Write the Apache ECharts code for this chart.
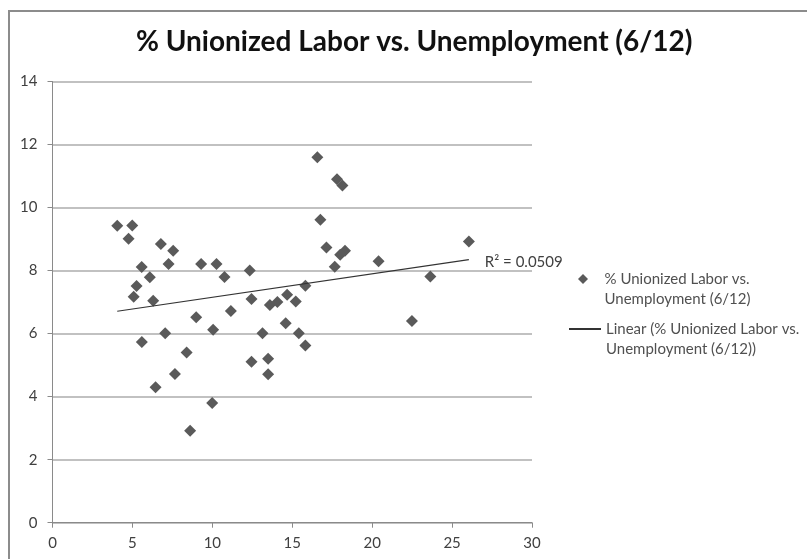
<!DOCTYPE html>
<html>
<head>
<meta charset="utf-8">
<script src="https://cdn.jsdelivr.net/npm/echarts@6/dist/echarts.min.js"></script>
<style>
html,body{margin:0;padding:0;background:#fff;}
#chart{width:807px;height:559px;}
</style>
</head>
<body>
<div id="chart"></div>
<script>
// Unionized labor (%) on x, unemployment (%) on y, one point per state
const unionPct = [
  4.05, 4.99, 4.76, 6.78, 7.55, 5.58, 7.26, 9.30, 10.26, 6.09, 10.76, 5.26, 5.08, 6.30, 11.16, 8.99, 10.05, 7.05, 5.59, 8.39, 7.66, 6.45, 9.99, 8.61,
  16.57, 17.8, 18.14, 16.76, 17.14, 18.3, 18.0, 17.66, 20.4, 12.34, 15.82, 12.45, 14.68, 15.22, 13.6, 14.07, 14.59, 13.14, 15.41, 15.82, 12.45, 13.49, 13.49,
  26.05, 23.64, 22.49
];
const unemploymentPct = [
  9.42, 9.43, 9.01, 8.84, 8.63, 8.11, 8.21, 8.21, 8.21, 7.79, 7.80, 7.51, 7.17, 7.04, 6.72, 6.52, 6.12, 6.01, 5.73, 5.40, 4.72, 4.30, 3.80, 2.92,
  11.60, 10.90, 10.70, 9.61, 8.73, 8.63, 8.50, 8.12, 8.30, 8.0, 7.52, 7.10, 7.23, 7.02, 6.91, 7.0, 6.33, 6.01, 6.01, 5.62, 5.11, 5.20, 4.71,
  8.92, 7.81, 6.40
];
const xTicks = [0, 5, 10, 15, 20, 25, 30];
const yTicks = [0, 2, 4, 6, 8, 10, 12, 14];
const titleText = '% Unionized Labor vs. Unemployment (6/12)';
const seriesName = '% Unionized Labor vs. Unemployment (6/12)';
const trendName = 'Linear (% Unionized Labor vs. Unemployment (6/12))';
const legendLines = {};
legendLines[seriesName] = ['% Unionized Labor vs.', 'Unemployment (6/12)'];
legendLines[trendName] = ['Linear (% Unionized Labor vs.', 'Unemployment (6/12))'];
const r2Text = 'R² = 0.0509';

// least-squares linear trend from the data
const n = unionPct.length;
let sx = 0, sy = 0, sxx = 0, sxy = 0;
for (let i = 0; i < n; i++) {
  sx += unionPct[i]; sy += unemploymentPct[i];
  sxx += unionPct[i] * unionPct[i]; sxy += unionPct[i] * unemploymentPct[i];
}
const slope = (n * sxy - sx * sy) / (n * sxx - sx * sx);
const intercept = (sy - slope * sx) / n;
const xMin = Math.min.apply(null, unionPct), xMax = Math.max.apply(null, unionPct);
const trendData = [[xMin, intercept + slope * xMin], [xMax, intercept + slope * xMax]];

const points = unionPct.map((x, i) => [x, unemploymentPct[i]]);
const FONT = 'Lato, "Open Sans", sans-serif';
const legendText = {fontFamily: FONT, fontSize: 15, color: '#505050', lineHeight: 20};

const chart = echarts.init(document.getElementById('chart'), null, {renderer: 'canvas'});
chart.setOption({
  animation: false,
  backgroundColor: '#fff',
  title: {
    text: titleText,
    left: 136,
    top: 28,
    padding: 0,
    textStyle: {fontFamily: FONT, fontSize: 28, fontWeight: 'bold', color: '#111'}
  },
  grid: {left: 52.5, right: 275, top: 81.5, bottom: 36.3, containLabel: false},
  xAxis: {
    type: 'value', min: xTicks[0], max: xTicks[xTicks.length - 1], interval: 5,
    axisLine: {show: true, lineStyle: {color: '#8a8a8a', width: 1}},
    axisTick: {show: true, length: 5, lineStyle: {color: '#8a8a8a'}},
    axisLabel: {fontFamily: FONT, fontSize: 15, color: '#404040', margin: 13},
    splitLine: {show: false}
  },
  yAxis: {
    type: 'value', min: yTicks[0], max: yTicks[yTicks.length - 1], interval: 2,
    axisLine: {show: true, lineStyle: {color: '#8a8a8a', width: 1}},
    axisTick: {show: true, length: 5, lineStyle: {color: '#8a8a8a'}},
    axisLabel: {fontFamily: FONT, fontSize: 15, color: '#404040', margin: 15},
    splitLine: {show: true, lineStyle: {color: '#acacac', width: 1.5}}
  },
  legend: [
    {
      orient: 'vertical', left: 578, top: 249, padding: 0,
      itemWidth: 10, itemHeight: 10, selectedMode: false,
      formatter: function (name) {
        return '\n' + legendLines[name].map(s => '   ' + s).join('\n');
      },
      textStyle: legendText,
      data: [{name: seriesName, icon: 'diamond', itemStyle: {color: '#5a5a5a'}}]
    },
    {
      orient: 'vertical', left: 568, top: 299, padding: 0,
      itemWidth: 32, itemHeight: 10, selectedMode: false,
      formatter: function (name) {
        return '\n' + legendLines[name].join('\n');
      },
      textStyle: legendText,
      data: [{name: trendName, itemStyle: {color: 'rgba(0,0,0,0)', borderWidth: 0, borderColor: 'rgba(0,0,0,0)'}}]
    }
  ],
  graphic: [{
    type: 'rect', z: 100, silent: true,
    shape: {x: 9, y: 11, width: 900, height: 700},
    style: {fill: 'none', stroke: '#8c8c8c', lineWidth: 2}
  }],
  series: [
    {
      name: seriesName, type: 'scatter',
      symbol: 'diamond', symbolSize: 12,
      itemStyle: {color: '#5a5a5a', opacity: 1},
      data: points, z: 3
    },
    {
      name: trendName, type: 'line',
      symbol: 'none', showSymbol: false,
      lineStyle: {color: '#333', width: 1.2},
      itemStyle: {color: '#333'},
      data: trendData, z: 4,
      markPoint: {
        silent: true,
        symbol: 'circle', symbolSize: 0,
        data: [{
          coord: trendData[1],
          label: {
            show: true, position: 'right', distance: 16, offset: [0, 2], formatter: r2Text,
            fontFamily: FONT, fontSize: 15, color: '#404040'
          }
        }]
      }
    }
  ]
});
</script>
</body>
</html>
